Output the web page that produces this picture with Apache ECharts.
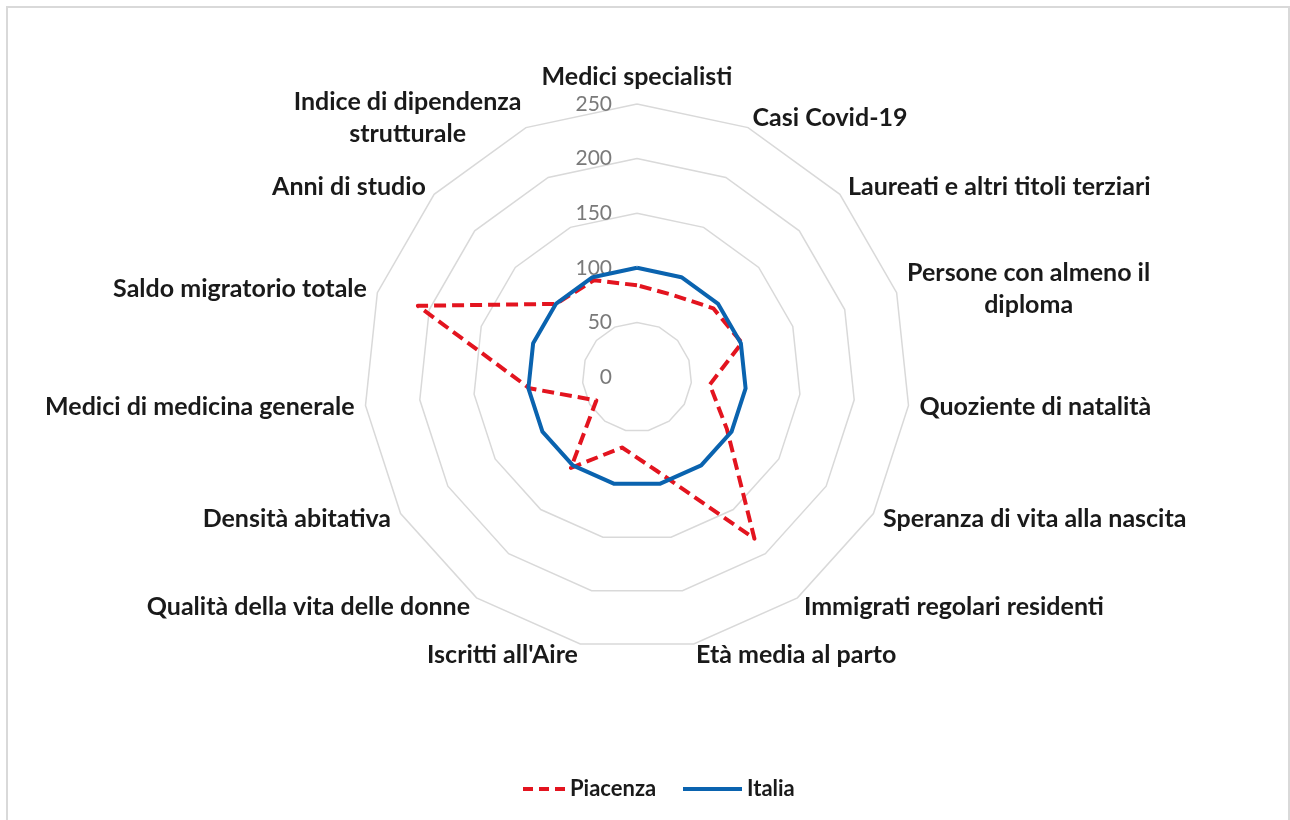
<!DOCTYPE html>
<html>
<head>
<meta charset="utf-8">
<script src="https://cdn.jsdelivr.net/npm/echarts@6/dist/echarts.min.js"></script>
<style>
html,body{margin:0;padding:0;background:#fff;}
#chart{width:1290px;height:820px;}
</style>
</head>
<body>
<div id="chart"></div>
<script>
// Indicators listed clockwise from the top, as in the reference
const indicators = [
  'Medici specialisti',
  'Casi Covid-19',
  'Laureati e altri titoli terziari',
  'Persone con almeno il\ndiploma',
  'Quoziente di natalità',
  'Speranza di vita alla nascita',
  'Immigrati regolari residenti',
  'Età media al parto',
  "Iscritti all'Aire",
  'Qualità della vita delle donne',
  'Densità abitativa',
  'Medici di medicina generale',
  'Saldo migratorio totale',
  'Anni di studio',
  'Indice di dipendenza\nstrutturale'
];
const piacenza = [84, 82, 94, 101, 67, 95, 183, 88, 66, 103, 43, 99, 211, 100, 97];
const italia   = [100, 100, 100, 100, 100, 100, 100, 100, 100, 100, 100, 100, 100, 100, 100];
const ticks = [0, 50, 100, 150, 200, 250];
const seriesNames = ['Piacenza', 'Italia'];

// ECharts lays radar axes counter-clockwise; reorder to get clockwise layout
const order = [0].concat(indicators.map((_, i) => i).slice(1).reverse());
const reorder = arr => order.map(i => arr[i]);

const CX = 637, CY = 377, R = 273;
const RED = '#E3141F', BLUE = '#0A63AF';
const FONT = 'Lato';

const chart = echarts.init(document.getElementById('chart'), null, {renderer: 'canvas'});
chart.setOption({
  backgroundColor: '#ffffff',
  animation: false,
  graphic: [{
    type: 'rect', silent: true,
    shape: {x: 7, y: 7, width: 1282, height: 900},
    style: {fill: 'none', stroke: '#d9d9d9', lineWidth: 2}
  }],
  legend: [
    {
      data: [{name: seriesNames[0], icon: 'path://M0,0h10v4h-10z M16,0h10v4h-10z M32,0h10v4h-10z'}],
      left: 523, top: 778, padding: 0, itemWidth: 42, itemHeight: 4,
      textStyle: {fontFamily: FONT, fontWeight: 'bold', fontSize: 22, color: '#1a1a1a'}
    },
    {
      data: [{name: seriesNames[1], icon: 'path://M0,0h59v4h-59z'}],
      left: 683, top: 778, padding: 0, itemWidth: 59, itemHeight: 4,
      textStyle: {fontFamily: FONT, fontWeight: 'bold', fontSize: 22, color: '#1a1a1a'}
    }
  ],
  grid: {left: CX - 21, top: CY - R, width: 10, height: R},
  xAxis: {type: 'value', show: false},
  yAxis: {
    type: 'value', min: ticks[0], max: ticks[ticks.length - 1], interval: ticks[1] - ticks[0],
    axisLine: {show: false}, axisTick: {show: false}, splitLine: {show: false},
    axisLabel: {margin: 4, color: '#7a7a7a', fontFamily: FONT, fontSize: 21}
  },
  radar: {
    center: [CX, CY],
    radius: R,
    startAngle: 90,
    shape: 'polygon',
    splitNumber: ticks.length - 1,
    axisNameGap: 11,
    indicator: order.map(i => ({name: indicators[i], min: ticks[0], max: ticks[ticks.length - 1]})),
    axisName: {
      formatter: function (name) {
        const key = name === indicators[0] ? 't' : 'c';
        return name.split('\n').map(l => '{' + key + '|' + l + '}').join('\n');
      },
      rich: {
        c: {align: 'center', fontFamily: FONT, fontWeight: 'bold', fontSize: 25, color: '#1a1a1a', lineHeight: 32},
        t: {align: 'center', fontFamily: FONT, fontWeight: 'bold', fontSize: 25, color: '#1a1a1a', lineHeight: 32, padding: [0, 0, 1, 0]}
      }
    },
    axisLine: {show: false},
    axisTick: {show: false},
    axisLabel: {show: false},
    splitArea: {show: false},
    splitLine: {lineStyle: {color: '#d9d9d9', width: 1.5}}
  },
  series: [{
    type: 'radar',
    symbol: 'none',
    data: [
      {name: seriesNames[0], value: reorder(piacenza),
       itemStyle: {color: RED},
       lineStyle: {color: RED, width: 4, type: [12, 6]}},
      {name: seriesNames[1], value: reorder(italia),
       itemStyle: {color: BLUE},
       lineStyle: {color: BLUE, width: 4, type: 'solid'}}
    ]
  }]
});
</script>
</body>
</html>
